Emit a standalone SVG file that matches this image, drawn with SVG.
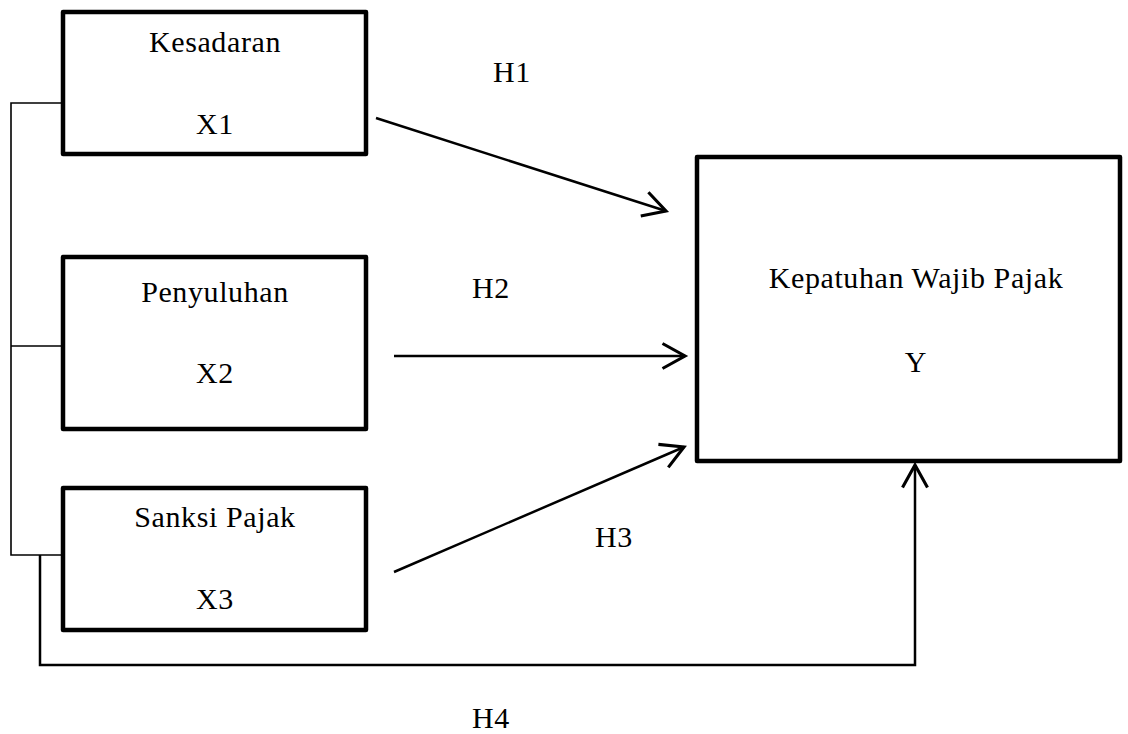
<svg xmlns="http://www.w3.org/2000/svg" width="1128" height="734" viewBox="0 0 1128 734">
<style>
.box{fill:#fff;stroke:#000;stroke-width:4.5;stroke-linejoin:round}
.t{font-family:"Liberation Serif","Times New Roman",serif;font-size:30px;fill:#000;text-anchor:middle;letter-spacing:0.6px}
.c{fill:none;stroke:#000;stroke-width:2.5}
.b{fill:none;stroke:#000;stroke-width:1.6}
</style>
<defs>
<marker id="ah" markerUnits="userSpaceOnUse" markerWidth="30" markerHeight="30" viewBox="-20 -12 22 24" refX="0" refY="0" orient="auto">
<path d="M-18,-10 L0,0 L-18,10" fill="none" stroke="#000" stroke-width="2.5"/>
</marker>
</defs>
<rect width="1128" height="734" fill="#fff"/>
<g id="connectors">
<path class="b" d="M62,103 H11 V555 H62 M11,346 H62"/>
<path class="c" d="M40,555 V665 H915 V465" marker-end="url(#ah)"/>
<line class="c" x1="376" y1="118" x2="666" y2="211" marker-end="url(#ah)"/>
<line class="c" x1="394" y1="356" x2="685" y2="356" marker-end="url(#ah)"/>
<line class="c" x1="394" y1="572" x2="684" y2="447" marker-end="url(#ah)"/>
<text class="t" x="512" y="82">H1</text>
<text class="t" x="491" y="298">H2</text>
<text class="t" x="614" y="547">H3</text>
<text class="t" x="491" y="728">H4</text>
</g>
<g id="x1">
<rect class="box" x="63" y="12" width="303" height="142"/>
<text class="t" x="215" y="52">Kesadaran</text>
<text class="t" x="215" y="134">X1</text>
</g>
<g id="x2">
<rect class="box" x="63" y="257" width="303" height="172"/>
<text class="t" x="215" y="302">Penyuluhan</text>
<text class="t" x="215" y="383">X2</text>
</g>
<g id="x3">
<rect class="box" x="63" y="488" width="303" height="142"/>
<text class="t" x="215" y="527">Sanksi Pajak</text>
<text class="t" x="215" y="609">X3</text>
</g>
<g id="y">
<rect class="box" x="697" y="157" width="423" height="304"/>
<text class="t" x="916" y="288">Kepatuhan Wajib Pajak</text>
<text class="t" x="916" y="372">Y</text>
</g>
</svg>
